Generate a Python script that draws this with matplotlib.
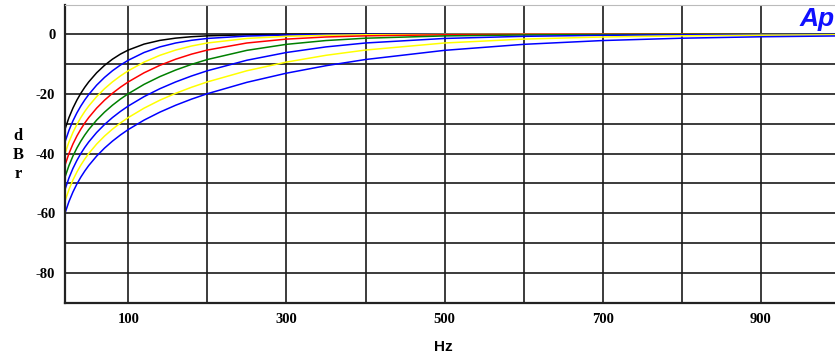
import matplotlib.pyplot as plt
import numpy as np

freq = [20, 25, 30, 35, 40, 45, 50, 60, 70, 80, 90, 100, 120, 140, 160, 180,
        200, 250, 300, 350, 400, 500, 600, 700, 800, 900, 1000]

# dBr, one list per trace (top to bottom at 20 Hz)
black_1 = [-31.84, -27.96, -24.81, -22.14, -19.84, -17.82, -16.03, -12.98, -10.48, -8.43, -6.74, -5.37,
           -3.38, -2.14, -1.38, -0.91, -0.62, -0.26, -0.13, -0.07, -0.04, -0.02, -0.01, 0.0, 0.0, 0.0, 0.0]
blue_1 = [-36.12, -32.25, -29.08, -26.41, -24.10, -22.06, -20.25, -17.12, -14.52, -12.30, -10.41, -8.78,
          -6.19, -4.32, -3.01, -2.11, -1.49, -0.68, -0.34, -0.19, -0.11, -0.05, -0.02, -0.01, -0.01, 0.0, 0.0]
yellow_1 = [-40.00, -36.12, -32.96, -30.28, -27.96, -25.92, -24.10, -20.95, -18.30, -16.03, -14.05, -12.30,
            -9.40, -7.13, -5.37, -4.02, -3.01, -1.49, -0.78, -0.44, -0.26, -0.11, -0.05, -0.03, -0.02, -0.01, -0.01]
red_1 = [-43.88, -40.00, -36.83, -34.15, -31.84, -29.79, -27.96, -24.81, -22.14, -19.84, -17.82, -16.03,
         -12.98, -10.48, -8.43, -6.74, -5.37, -3.01, -1.71, -1.00, -0.62, -0.26, -0.13, -0.07, -0.04, -0.03, -0.02]
green_1 = [-47.89, -44.01, -40.85, -38.17, -35.85, -33.80, -31.97, -28.81, -26.14, -23.83, -21.79, -19.98,
           -16.85, -14.25, -12.05, -10.16, -8.54, -5.47, -3.46, -2.19, -1.41, -0.64, -0.32, -0.17, -0.10, -0.06, -0.04]
blue_2 = [-52.04, -48.16, -45.00, -42.32, -40.00, -37.95, -36.12, -32.96, -30.28, -27.96, -25.92, -24.10,
          -20.95, -18.30, -16.03, -14.05, -12.30, -8.78, -6.19, -4.32, -3.01, -1.49, -0.78, -0.44, -0.26, -0.17, -0.11]
yellow_2 = [-55.92, -52.04, -48.87, -46.20, -43.88, -41.83, -40.00, -36.83, -34.15, -31.84, -29.79, -27.96,
            -24.81, -22.14, -19.84, -17.82, -16.03, -12.30, -9.40, -7.13, -5.37, -3.01, -1.71, -1.00, -0.62, -0.39, -0.26]
blue_3 = [-59.93, -56.06, -52.89, -50.21, -47.89, -45.85, -44.01, -40.85, -38.17, -35.85, -33.80, -31.97,
          -28.81, -26.14, -23.83, -21.79, -19.98, -16.17, -13.11, -10.61, -8.54, -5.47, -3.46, -2.19, -1.41, -0.93, -0.64]

traces = [black_1, blue_1, yellow_1, red_1, green_1, blue_2, yellow_2, blue_3]
colors = ['#000000', '#0000ff', '#ffff00', '#ff0000', '#008000', '#0000ff', '#ffff00', '#0000ff']

xticks = [100, 300, 500, 700, 900]
yticks = [0, -20, -40, -60, -80]

fig = plt.figure(figsize=(8.35, 3.6), dpi=100)
ax = fig.add_axes([65 / 835, 57 / 360, 775 / 835, 298 / 360])

for y, c in zip(traces, colors):
    ax.plot(freq, y, color=c, lw=1.1)

ax.set_xlim(20, 1000)
ax.set_ylim(-90, 9.7)
ax.set_xticks(range(100, 1000, 100))
ax.set_yticks(range(-90, 10, 10))
ax.grid(True, color='#1a1a1a', lw=1.2)
ax.set_axisbelow(True)

ax.set_xticklabels([str(v) if v in xticks else '' for v in range(100, 1000, 100)])
ax.set_yticklabels([str(v) if v in yticks else '' for v in range(-90, 10, 10)])
ax.tick_params(length=0, pad=7, labelsize=10.5)
for lab in ax.get_xticklabels() + ax.get_yticklabels():
    lab.set_fontfamily('Liberation Serif')
    lab.set_fontweight('bold')

for s in ['left', 'bottom']:
    ax.spines[s].set_color('#222222')
    ax.spines[s].set_linewidth(1.6)
ax.spines['top'].set_color('#bbbbbb')
ax.spines['right'].set_visible(False)

fig.text(443 / 835, 13 / 360, 'Hz', ha='center', va='center', fontfamily='Liberation Sans',
         fontweight='bold', fontsize=11)
fig.text(18 / 835, 205 / 360, 'd\nB\nr', ha='center', va='center', fontfamily='Liberation Serif',
         fontweight='bold', fontsize=12, linespacing=1.25)
fig.text(1.0, 0.98, 'Ap', ha='right', va='top', color='#1010ff', fontfamily='Liberation Sans',
         fontweight='bold', fontstyle='italic', fontsize=19)

fig.savefig('out.png', dpi=100)
